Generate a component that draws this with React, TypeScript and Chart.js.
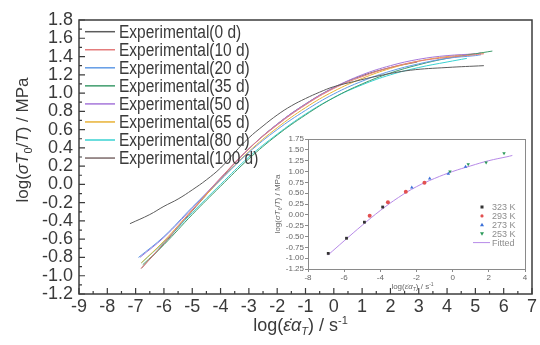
import { useEffect, useRef } from "react";
import { Chart, registerables } from "chart.js";
Chart.register(...registerables);

// ---------- main chart data ----------
const seriesLabels = [
  "Experimental(0 d)",
  "Experimental(10 d)",
  "Experimental(20 d)",
  "Experimental(35 d)",
  "Experimental(50 d)",
  "Experimental(65 d)",
  "Experimental(80 d)",
  "Experimental(100 d)",
];
const seriesColors = ["#5c5c5c", "#e47c7c", "#629be6", "#3f9c6c", "#a676da", "#e8b236", "#3ad2d2", "#7c6a6a"];

const x0d = [-7.2, -6.5, -6, -5.5, -5, -4.5, -4, -3.5, -3, -2.5, -2, -1.5, -1, -0.5, 0, 0.7, 1.6, 2.7, 4, 5.3];
const y0d = [-0.43, -0.33, -0.24, -0.16, -0.06, 0.05, 0.18, 0.35, 0.51, 0.64, 0.76, 0.86, 0.94, 1.01, 1.07, 1.125, 1.19, 1.25, 1.28, 1.3];
const x10d = [-6.8, -6, -5, -4, -3, -2, -1, 0, 1, 2, 3, 4, 5, 5.3];
const y10d = [-0.92, -0.64, -0.28, 0.07, 0.39, 0.65, 0.87, 1.05, 1.18, 1.28, 1.35, 1.39, 1.42, 1.43];
const x20d = [-6.9, -6, -5, -4, -3, -2, -1, 0, 1, 2, 3, 4, 5, 5.2];
const y20d = [-0.8, -0.57, -0.25, 0.05, 0.35, 0.6, 0.81, 0.99, 1.13, 1.24, 1.32, 1.38, 1.41, 1.42];
const x35d = [-6.75, -6, -5, -4, -3, -2, -1, 0, 1, 2, 3, 4, 5, 5.6];
const y35d = [-0.88, -0.66, -0.33, -0.02, 0.28, 0.54, 0.76, 0.95, 1.1, 1.22, 1.31, 1.38, 1.43, 1.46];
const x50d = [-6.85, -6, -5, -4, -3, -2, -1, 0, 1, 2, 3, 4, 5, 5.2];
const y50d = [-0.8, -0.58, -0.26, 0.07, 0.39, 0.66, 0.88, 1.06, 1.2, 1.3, 1.37, 1.41, 1.43, 1.44];
const x65d = [-6.8, -6, -5, -4, -3, -2, -1, 0, 1, 2, 3, 4, 5, 5.3];
const y65d = [-0.86, -0.62, -0.28, 0.05, 0.36, 0.62, 0.84, 1.02, 1.16, 1.27, 1.35, 1.4, 1.43, 1.44];
const x80d = [-6.8, -6, -5, -4, -3, -2, -1, 0, 1, 2, 3, 4, 4.7];
const y80d = [-0.86, -0.63, -0.31, 0.0, 0.3, 0.55, 0.77, 0.95, 1.09, 1.2, 1.28, 1.34, 1.38];
const x100d = [-6.8, -6, -5, -4, -3, -2, -1, 0, 1, 2, 2.95];
const y100d = [-0.92, -0.65, -0.29, 0.06, 0.39, 0.66, 0.88, 1.06, 1.19, 1.28, 1.34];

const seriesX = [x0d, x10d, x20d, x35d, x50d, x65d, x80d, x100d];
const seriesY = [y0d, y10d, y20d, y35d, y50d, y65d, y80d, y100d];

const mainXMin = -9, mainXMax = 7, mainXStep = 1;
const mainYMin = -1.2, mainYMax = 1.8, mainYStep = 0.2;

// ---------- inset data ----------
const insetLabels = ["323 K", "293 K", "273 K", "253 K", "Fitted"];
const insetColors = ["#333333", "#e25050", "#3a6fd8", "#2c9a5a", "#b78ae8"];
const x323 = [-6.88, -5.87, -4.88, -3.87];
const y323 = [-0.89, -0.54, -0.17, 0.18];
const x293 = [-4.59, -3.58, -2.59, -1.56];
const y293 = [-0.02, 0.29, 0.53, 0.74];
const x273 = [-2.26, -1.27, -0.24, 0.71];
const y273 = [0.63, 0.84, 0.95, 1.11];
const x253 = [-0.15, 0.86, 1.85, 2.84];
const y253 = [1.0, 1.17, 1.21, 1.42];
const xFit = [-6.9, -6, -5, -4, -3, -2, -1, 0, 1, 2, 3, 3.3];
const yFit = [-0.93, -0.6, -0.24, 0.1, 0.4, 0.65, 0.84, 1.0, 1.13, 1.25, 1.34, 1.37];
const insetXMin = -8, insetXMax = 4, insetXStep = 2;
const insetYMin = -1.25, insetYMax = 1.75, insetYStep = 0.25;

const pts = (xs: number[], ys: number[]) => xs.map((x, i) => ({ x, y: ys[i] }));

type Seg = { t: string; it?: boolean; sub?: boolean; sup?: boolean };
const FAMILY = '"Liberation Sans", Arial, sans-serif';

function drawRich(ctx: CanvasRenderingContext2D, segs: Seg[], size: number, cx: number, cy: number, rotate: boolean, color: string) {
  ctx.save();
  ctx.translate(cx, cy);
  if (rotate) ctx.rotate(-Math.PI / 2);
  ctx.fillStyle = color;
  ctx.textBaseline = "alphabetic";
  ctx.textAlign = "left";
  const fontOf = (s: Seg) => `${s.it ? "italic " : ""}${s.sub || s.sup ? Math.round(size * 0.62) : size}px ${FAMILY}`;
  let w = 0;
  for (const s of segs) {
    ctx.font = fontOf(s);
    w += ctx.measureText(s.t).width;
  }
  let x = -w / 2;
  for (const s of segs) {
    ctx.font = fontOf(s);
    const dy = s.sub ? size * 0.22 : s.sup ? -size * 0.42 : 0;
    ctx.fillText(s.t, x, size * 0.36 + dy);
    x += ctx.measureText(s.t).width;
  }
  ctx.restore();
}

const yTitle: Seg[] = [
  { t: "log(" }, { t: "σ", it: true }, { t: "T", it: true }, { t: "0", sub: true }, { t: "/" }, { t: "T", it: true }, { t: ") / MPa" },
];
const xTitle: Seg[] = [
  { t: "log(" }, { t: "ε\u0307", it: true }, { t: "α", it: true }, { t: "T", it: true, sub: true }, { t: ") / s" }, { t: "-1", sup: true },
];

const mainDecor = {
  id: "mainDecor",
  afterDraw(chart: any) {
    const ctx: CanvasRenderingContext2D = chart.ctx;
    const { left, right, top, bottom } = chart.chartArea;
    const xs = chart.scales.x, ys = chart.scales.y;
    ctx.save();
    ctx.strokeStyle = "#3c3c3c";
    ctx.lineWidth = 1.5;
    ctx.strokeRect(left, top, right - left, bottom - top);
    ctx.lineWidth = 1.2;
    ctx.beginPath();
    for (let i = 0; i <= (mainXMax - mainXMin) * 2; i++) {
      const v = mainXMin + i * 0.5;
      const px = xs.getPixelForValue(v);
      const len = i % 2 === 0 ? 6 : 3;
      ctx.moveTo(px, bottom);
      ctx.lineTo(px, bottom - len);
    }
    for (let i = 0; i <= Math.round((mainYMax - mainYMin) / 0.1); i++) {
      const v = mainYMin + i * 0.1;
      const py = ys.getPixelForValue(v);
      const len = i % 2 === 0 ? 6 : 3;
      ctx.moveTo(left, py);
      ctx.lineTo(left + len, py);
    }
    ctx.stroke();
    // legend (condensed text)
    const ds = chart.data.datasets;
    ctx.font = `18px ${FAMILY}`;
    ctx.textBaseline = "middle";
    ctx.textAlign = "left";
    for (let i = 0; i < ds.length; i++) {
      const y = top + 11.7 + i * 18.05;
      ctx.strokeStyle = ds[i].borderColor;
      ctx.lineWidth = 1.5;
      ctx.beginPath();
      ctx.moveTo(left + 6, y);
      ctx.lineTo(left + 36, y);
      ctx.stroke();
      ctx.fillStyle = "#3a3a3a";
      ctx.save();
      ctx.translate(left + 40, y + 1);
      ctx.scale(0.86, 1);
      ctx.fillText(ds[i].label, 0, 0);
      ctx.restore();
    }
    ctx.restore();
    drawRich(ctx, yTitle, 17, 22, (top + bottom) / 2 - 17, true, "#3a3a3a");
    drawRich(ctx, xTitle, 18, (left + right) / 2 - 5, 325, false, "#3a3a3a");
  },
};

const insetDecor = {
  id: "insetDecor",
  beforeDraw(chart: any) {
    const ctx: CanvasRenderingContext2D = chart.ctx;
    const { left, right, top, bottom } = chart.chartArea;
    ctx.save();
    ctx.fillStyle = "#ffffff";
    ctx.fillRect(left, top, right - left, bottom - top);
    ctx.restore();
  },
  afterDraw(chart: any) {
    const ctx: CanvasRenderingContext2D = chart.ctx;
    const { left, right, top, bottom } = chart.chartArea;
    ctx.save();
    ctx.strokeStyle = "#8a8a8a";
    ctx.lineWidth = 1;
    ctx.strokeRect(left + 0.5, top + 0.5, right - left, bottom - top);
    // legend
    const ds = chart.data.datasets;
    ctx.font = `9px ${FAMILY}`;
    ctx.textBaseline = "middle";
    ctx.textAlign = "left";
    for (let i = 0; i < ds.length; i++) {
      const y = top + 68 + i * 8.9;
      const mx = right - 43;
      ctx.fillStyle = ds[i].borderColor;
      ctx.strokeStyle = ds[i].borderColor;
      if (i === 0) ctx.fillRect(mx - 1.5, y - 1.5, 3, 3);
      else if (i === 1) { ctx.beginPath(); ctx.arc(mx, y, 1.6, 0, Math.PI * 2); ctx.fill(); }
      else if (i === 2) { ctx.beginPath(); ctx.moveTo(mx, y - 2); ctx.lineTo(mx + 2, y + 1.5); ctx.lineTo(mx - 2, y + 1.5); ctx.closePath(); ctx.fill(); }
      else if (i === 3) { ctx.beginPath(); ctx.moveTo(mx, y + 2); ctx.lineTo(mx + 2, y - 1.5); ctx.lineTo(mx - 2, y - 1.5); ctx.closePath(); ctx.fill(); }
      else { ctx.lineWidth = 1; ctx.beginPath(); ctx.moveTo(mx - 9, y); ctx.lineTo(mx + 8, y); ctx.stroke(); }
      ctx.fillStyle = "#8c8c8c";
      ctx.fillText(ds[i].label, right - 33, y + 0.5);
    }
    ctx.restore();
    drawRich(ctx, yTitle, 8, 9, (top + bottom) / 2, true, "#666666");
    drawRich(ctx, xTitle, 8, (left + right) / 2 - 4, 156, false, "#666666");
  },
};

export default function App() {
  const mainRef = useRef<HTMLCanvasElement>(null);
  const insetRef = useRef<HTMLCanvasElement>(null);

  useEffect(() => {
    document.body.style.margin = "0";
    const main = new Chart(mainRef.current!, {
      type: "scatter",
      data: {
        datasets: seriesLabels.map((label, i) => ({
          label,
          data: pts(seriesX[i], seriesY[i]),
          borderColor: seriesColors[i],
          backgroundColor: seriesColors[i],
          showLine: true,
          pointRadius: 0,
          borderWidth: 1,
          tension: 0.4,
        })),
      },
      options: {
        responsive: false,
        animation: false,
        layout: { padding: { left: 0, top: 20, right: 8, bottom: 0 } },
        plugins: { legend: { display: false }, tooltip: { enabled: false } },
        scales: {
          x: {
            type: "linear",
            min: mainXMin,
            max: mainXMax,
            ticks: { stepSize: mainXStep, color: "#3a3a3a", font: { family: FAMILY, size: 18 }, padding: 2, maxRotation: 0, autoSkip: false },
            grid: { display: false, drawTicks: false, tickLength: 0 },
            border: { display: false },
            afterFit: (s: any) => { s.height = 51; },
          },
          y: {
            type: "linear",
            min: mainYMin,
            max: mainYMax,
            ticks: {
              stepSize: mainYStep,
              color: "#3a3a3a",
              font: { family: FAMILY, size: 18 },
              padding: 6,
              autoSkip: false,
              callback: (v: any) => Number(v).toFixed(1),
            },
            grid: { display: false, drawTicks: false, tickLength: 0 },
            border: { display: false },
            afterFit: (s: any) => { s.width = 79; },
          },
        },
      },
      plugins: [mainDecor],
    });

    const insetSets = [pts(x323, y323), pts(x293, y293), pts(x273, y273), pts(x253, y253)];
    const styles = ["rect", "circle", "triangle", "triangle"];
    const inset = new Chart(insetRef.current!, {
      type: "scatter",
      data: {
        datasets: [
          ...insetSets.map((d, i) => ({
            label: insetLabels[i],
            data: d,
            borderColor: insetColors[i],
            backgroundColor: insetColors[i],
            pointStyle: styles[i] as any,
            pointRotation: i === 3 ? 180 : 0,
            pointRadius: 2,
            borderWidth: 0,
            showLine: false,
          })),
          {
            label: insetLabels[4],
            data: pts(xFit, yFit),
            borderColor: insetColors[4],
            backgroundColor: insetColors[4],
            showLine: true,
            pointRadius: 0,
            borderWidth: 1,
            tension: 0.4,
          },
        ],
      },
      options: {
        responsive: false,
        animation: false,
        layout: { padding: { left: 0, top: 9, right: 11, bottom: 0 } },
        plugins: { legend: { display: false }, tooltip: { enabled: false } },
        scales: {
          x: {
            type: "linear",
            min: insetXMin,
            max: insetXMax,
            ticks: { stepSize: insetXStep, color: "#666666", font: { family: FAMILY, size: 8 }, padding: 1, maxRotation: 0, autoSkip: false },
            grid: { display: true, drawOnChartArea: false, drawTicks: true, tickLength: 3, color: "#8a8a8a" },
            border: { display: false },
            afterFit: (s: any) => { s.height = 23; },
          },
          y: {
            type: "linear",
            min: insetYMin,
            max: insetYMax,
            ticks: {
              stepSize: insetYStep,
              color: "#666666",
              font: { family: FAMILY, size: 8 },
              padding: 1,
              autoSkip: false,
              callback: (v: any) => Number(v).toFixed(2),
            },
            grid: { display: true, drawOnChartArea: false, drawTicks: true, tickLength: 3, color: "#8a8a8a" },
            border: { display: false },
            afterFit: (s: any) => { s.width = 40; },
          },
        },
      },
      plugins: [insetDecor],
    });

    return () => {
      main.destroy();
      inset.destroy();
    };
  }, []);

  return (
    <div style={{ position: "fixed", left: 0, top: 0, width: 540, height: 345, background: "#fff" }}>
      <canvas ref={mainRef} width={540} height={345} style={{ position: "absolute", left: 0, top: 0 }} />
      <canvas ref={insetRef} width={268} height={162} style={{ position: "absolute", left: 268, top: 130 }} />
    </div>
  );
}
